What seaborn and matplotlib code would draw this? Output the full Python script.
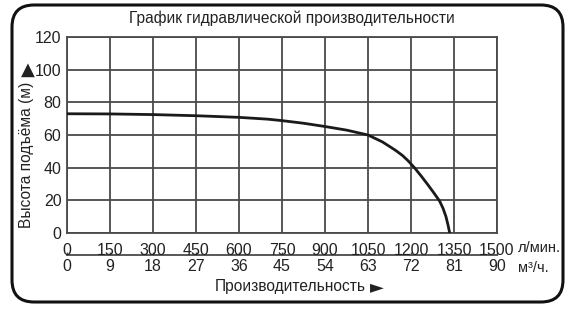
import matplotlib
matplotlib.use("Agg")
import matplotlib.pyplot as plt
import seaborn as sns
import pandas as pd
from matplotlib.patches import FancyBboxPatch

# ---- data ----
flow_lpm = [0, 150, 300, 450, 600, 700, 750, 825, 900, 975, 1050, 1100, 1125,
            1147, 1170, 1190, 1212, 1235, 1259, 1280, 1300, 1312, 1322, 1329, 1335]
head_m = [73.0, 72.9, 72.5, 71.8, 70.8, 69.7, 68.8, 67.2, 65.2, 63.0, 60.0, 55.8,
          53.0, 50.5, 47.5, 44.2, 40.0, 35.0, 29.5, 24.5, 19.5, 15.0, 10.0, 5.0, 0.0]
x_ticks_lpm = [0, 150, 300, 450, 600, 750, 900, 1050, 1200, 1350, 1500]
x_ticks_m3h = [0, 9, 18, 27, 36, 45, 54, 63, 72, 81, 90]
y_ticks = [0, 20, 40, 60, 80, 100, 120]

title = "График гидравлической производительности"
ylabel = "Высота подъёма (м)"
xlabel = "Производительность"
unit_lpm = "л/мин."
unit_m3h = "м³/ч."

sns.set_theme(style="white")
plt.rcParams["font.family"] = ["Liberation Sans", "DejaVu Sans"]

W, H = 571, 310
TXT = "#222222"
fig = plt.figure(figsize=(W / 100, H / 100), dpi=100)
ax = fig.add_axes([67 / W, 1 - 233 / H, 430 / W, 196 / H])

df = pd.DataFrame({"flow": flow_lpm, "head": head_m})
sns.lineplot(data=df, x="flow", y="head", ax=ax, color="#1a1a1a", lw=2.0,
             sort=False, zorder=3)

grid_c = "#4a4a4a"
ax.set_xlim(0, 1500)
ax.set_ylim(0, 120)
ax.set_xticks(x_ticks_lpm)
ax.set_xticklabels([str(v) for v in x_ticks_lpm])
ax.set_yticks(y_ticks)
ax.set_yticklabels([str(v) for v in y_ticks])
ax.grid(True, color=grid_c, lw=1.3)
ax.set_axisbelow(True)
for s in ax.spines.values():
    s.set_color(grid_c)
    s.set_linewidth(1.3)
ax.tick_params(axis="x", length=0, pad=7, labelsize=11.5, colors=TXT)
ax.tick_params(axis="y", length=0, pad=4, labelsize=11.5, colors=TXT)
ax.set_xlabel("")
ax.set_ylabel("")

# secondary m3/h axis
sec = ax.secondary_xaxis(-0.112, functions=(lambda x: x / 1500 * 90,
                                            lambda x: x / 90 * 1500))
sec.set_xticks(x_ticks_m3h)
sec.set_xticklabels([str(v) for v in x_ticks_m3h])
sec.spines["bottom"].set_color(grid_c)
sec.spines["bottom"].set_linewidth(1.3)
sec.tick_params(axis="x", direction="in", length=2, width=1, color=grid_c,
                pad=3, labelsize=11.5, labelcolor=TXT)

# units
fig.text(518 / W, 1 - 248 / H, unit_lpm, ha="left", va="center",
         fontsize=10.5, color=TXT)
fig.text(518 / W, 1 - 268 / H, unit_m3h, ha="left", va="center",
         fontsize=10.5, color=TXT)

# title and axis labels
fig.text(292 / W, 1 - 18 / H, title, ha="center", va="center",
         fontsize=11.2, color=TXT)
fig.text(290 / W, 1 - 287 / H, xlabel, ha="center", va="center",
         fontsize=11.2, color=TXT)
fig.text(377 / W, 1 - 287 / H, "►", ha="center", va="center",
         fontsize=13, color=TXT, family=["DejaVu Sans"])
fig.text(27 / W, 1 - 155 / H, ylabel, ha="center", va="center",
         rotation=90, fontsize=11.2, color=TXT)
fig.text(28 / W, 1 - 70 / H, "▲", ha="center", va="center",
         fontsize=13, color=TXT, family=["DejaVu Sans"])

# rounded frame
frame = FancyBboxPatch((12, 8), 551, 297,
                       boxstyle="round,pad=0,rounding_size=22",
                       transform=None, fill=False, ec="#111111", lw=2.2)
fig.add_artist(frame)

fig.savefig("out.png", dpi=100)
